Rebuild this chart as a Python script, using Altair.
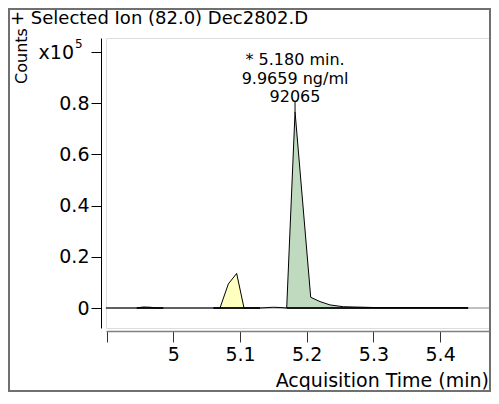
import altair as alt
import pandas as pd

# --- data (x in minutes, y in counts x10^5) ---
trace_t = [4.899, 4.945, 4.955, 4.965, 4.975, 5.060, 5.070, 5.0825, 5.095, 5.106, 5.130,
           5.150, 5.160, 5.170, 5.1825, 5.206, 5.220, 5.235, 5.255, 5.300, 5.442]
trace_y = [0.0, 0.0, 0.004, 0.003, 0.0, 0.0, 0.0, 0.094, 0.135, 0.0, 0.0,
           0.003, 0.002, 0.0, 0.766, 0.042, 0.025, 0.012, 0.005, 0.002, 0.001]

yellow_t = [5.070, 5.0825, 5.095, 5.106]
yellow_y = [0.0, 0.094, 0.135, 0.0]

green_t = [5.170, 5.1825, 5.206, 5.220, 5.235, 5.255, 5.300, 5.442]
green_y = [0.0, 0.766, 0.042, 0.025, 0.012, 0.005, 0.002, 0.001]

base_start = [4.945, 5.060, 5.170]
base_end = [4.985, 5.130, 5.442]

peak_rt = 5.1825
peak_h = 0.766
annot_lines = ["* 5.180 min.", "9.9659 ng/ml", "92065"]

x_ticks = [4.9, 5.0, 5.1, 5.2, 5.3, 5.4]
y_ticks = [0.0, 0.2, 0.4, 0.6, 0.8, 1.0]

FONT = "DejaVu Sans"
FS = 19

xdom = [4.8991, 5.4763]
ydom = [-0.0780, 1.0537]

xs = alt.Scale(domain=xdom, nice=False, zero=False)
ys = alt.Scale(domain=ydom, nice=False, zero=False)

trace_df = pd.DataFrame({"t": trace_t, "y": trace_y})
yel_df = pd.DataFrame({"t": yellow_t, "y": yellow_y})
grn_df = pd.DataFrame({"t": green_t, "y": green_y})
base_df = pd.DataFrame({"t": base_start, "t2": base_end, "y": [0.0] * 3})
zero_df = pd.DataFrame({"t": [xdom[0]], "t2": [xdom[1]], "y": [0.0]})
one = pd.DataFrame({"a": [0]})

xaxis = alt.Axis(values=x_ticks, labelExpr="datum.value < 4.95 ? '' : format(datum.value, '.1~f')",
                 offset=3, domainColor="#808080", domainWidth=1.5, tickColor="#333333",
                 tickSize=11, labelFont=FONT, labelFontSize=FS, labelColor="black",
                 labelPadding=3, grid=False, title=None)
yaxis = alt.Axis(values=y_ticks,
                 labelExpr="datum.value > 0.95 ? '' : (datum.value == 0 ? '0' : format(datum.value, '.1f'))",
                 offset=5, domainColor="black", tickColor="black", tickSize=10,
                 labelFont=FONT, labelFontSize=FS, labelColor="black", labelPadding=2,
                 grid=False, title=None)

zero_line = alt.Chart(zero_df).mark_rule(color="#808080", strokeWidth=1).encode(
    x=alt.X("t:Q", scale=xs, axis=xaxis), x2="t2:Q",
    y=alt.Y("y:Q", scale=ys, axis=yaxis))

yellow = alt.Chart(yel_df).mark_area(color="#FFFFC0", opacity=1).encode(
    x=alt.X("t:Q", scale=xs), y=alt.Y("y:Q", scale=ys), y2=alt.datum(0))
green = alt.Chart(grn_df).mark_area(color="#C0DAC0", opacity=1).encode(
    x=alt.X("t:Q", scale=xs), y=alt.Y("y:Q", scale=ys), y2=alt.datum(0))

base = alt.Chart(base_df).mark_rule(color="#1a1a1a", strokeWidth=2).encode(
    x=alt.X("t:Q", scale=xs), x2="t2:Q", y=alt.Y("y:Q", scale=ys))

trace = alt.Chart(trace_df).mark_line(color="black", strokeWidth=1).encode(
    x=alt.X("t:Q", scale=xs), y=alt.Y("y:Q", scale=ys))

pk = pd.DataFrame({"t": [peak_rt], "y": [peak_h], "y2": [0.808]})
pk_rule = alt.Chart(pk).mark_rule(color="black", strokeWidth=1).encode(
    x=alt.X("t:Q", scale=xs), y=alt.Y("y:Q", scale=ys), y2="y2:Q")

annot_df = pd.DataFrame({"t": [peak_rt]})
annot = alt.Chart(annot_df).mark_text(text=annot_lines, lineHeight=18.5, font=FONT, fontSize=16,
                                      align="center", baseline="alphabetic", color="black").encode(
    x=alt.X("t:Q", scale=xs), y=alt.value(27))

title_t = alt.Chart(one).mark_text(text="+ Selected Ion (82.0) Dec2802.D", font=FONT, fontSize=18,
                                   align="left", baseline="alphabetic", color="black").encode(
    x=alt.value(-96), y=alt.value(-14))
counts_t = alt.Chart(one).mark_text(text="Counts", font=FONT, fontSize=16, angle=270,
                                    align="center", baseline="middle", color="black").encode(
    x=alt.value(-84), y=alt.value(18))
x10_t = alt.Chart(one).mark_text(text="x10", font=FONT, fontSize=FS, align="right",
                                 baseline="middle", color="black").encode(
    x=alt.value(-32), y=alt.value(15))
exp_t = alt.Chart(one).mark_text(text="5", font=FONT, fontSize=12, align="left",
                                 baseline="middle", color="black").encode(
    x=alt.value(-31), y=alt.value(6))
xtitle_t = alt.Chart(one).mark_text(text="Acquisition Time (min)", font=FONT, fontSize=FS,
                                    align="right", baseline="alphabetic", color="black").encode(
    x=alt.value(383), y=alt.value(349))
frame = alt.Chart(one).mark_rect(filled=False, stroke="#707070", strokeWidth=2).encode(
    x=alt.value(-97), x2=alt.value(384), y=alt.value(-29), y2=alt.value(353))

chart = alt.layer(zero_line, yellow, green, base, trace, pk_rule, annot,
                  title_t, counts_t, x10_t, exp_t, xtitle_t, frame).properties(
    width=385, height=290,
    padding={"left": 98, "top": 30, "right": 0, "bottom": 64},
    autosize=alt.AutoSizeParams(type="none"),
).configure_view(stroke=None).configure(background="white")

chart.save("out.html", embed_options={"renderer": "svg", "actions": False})
